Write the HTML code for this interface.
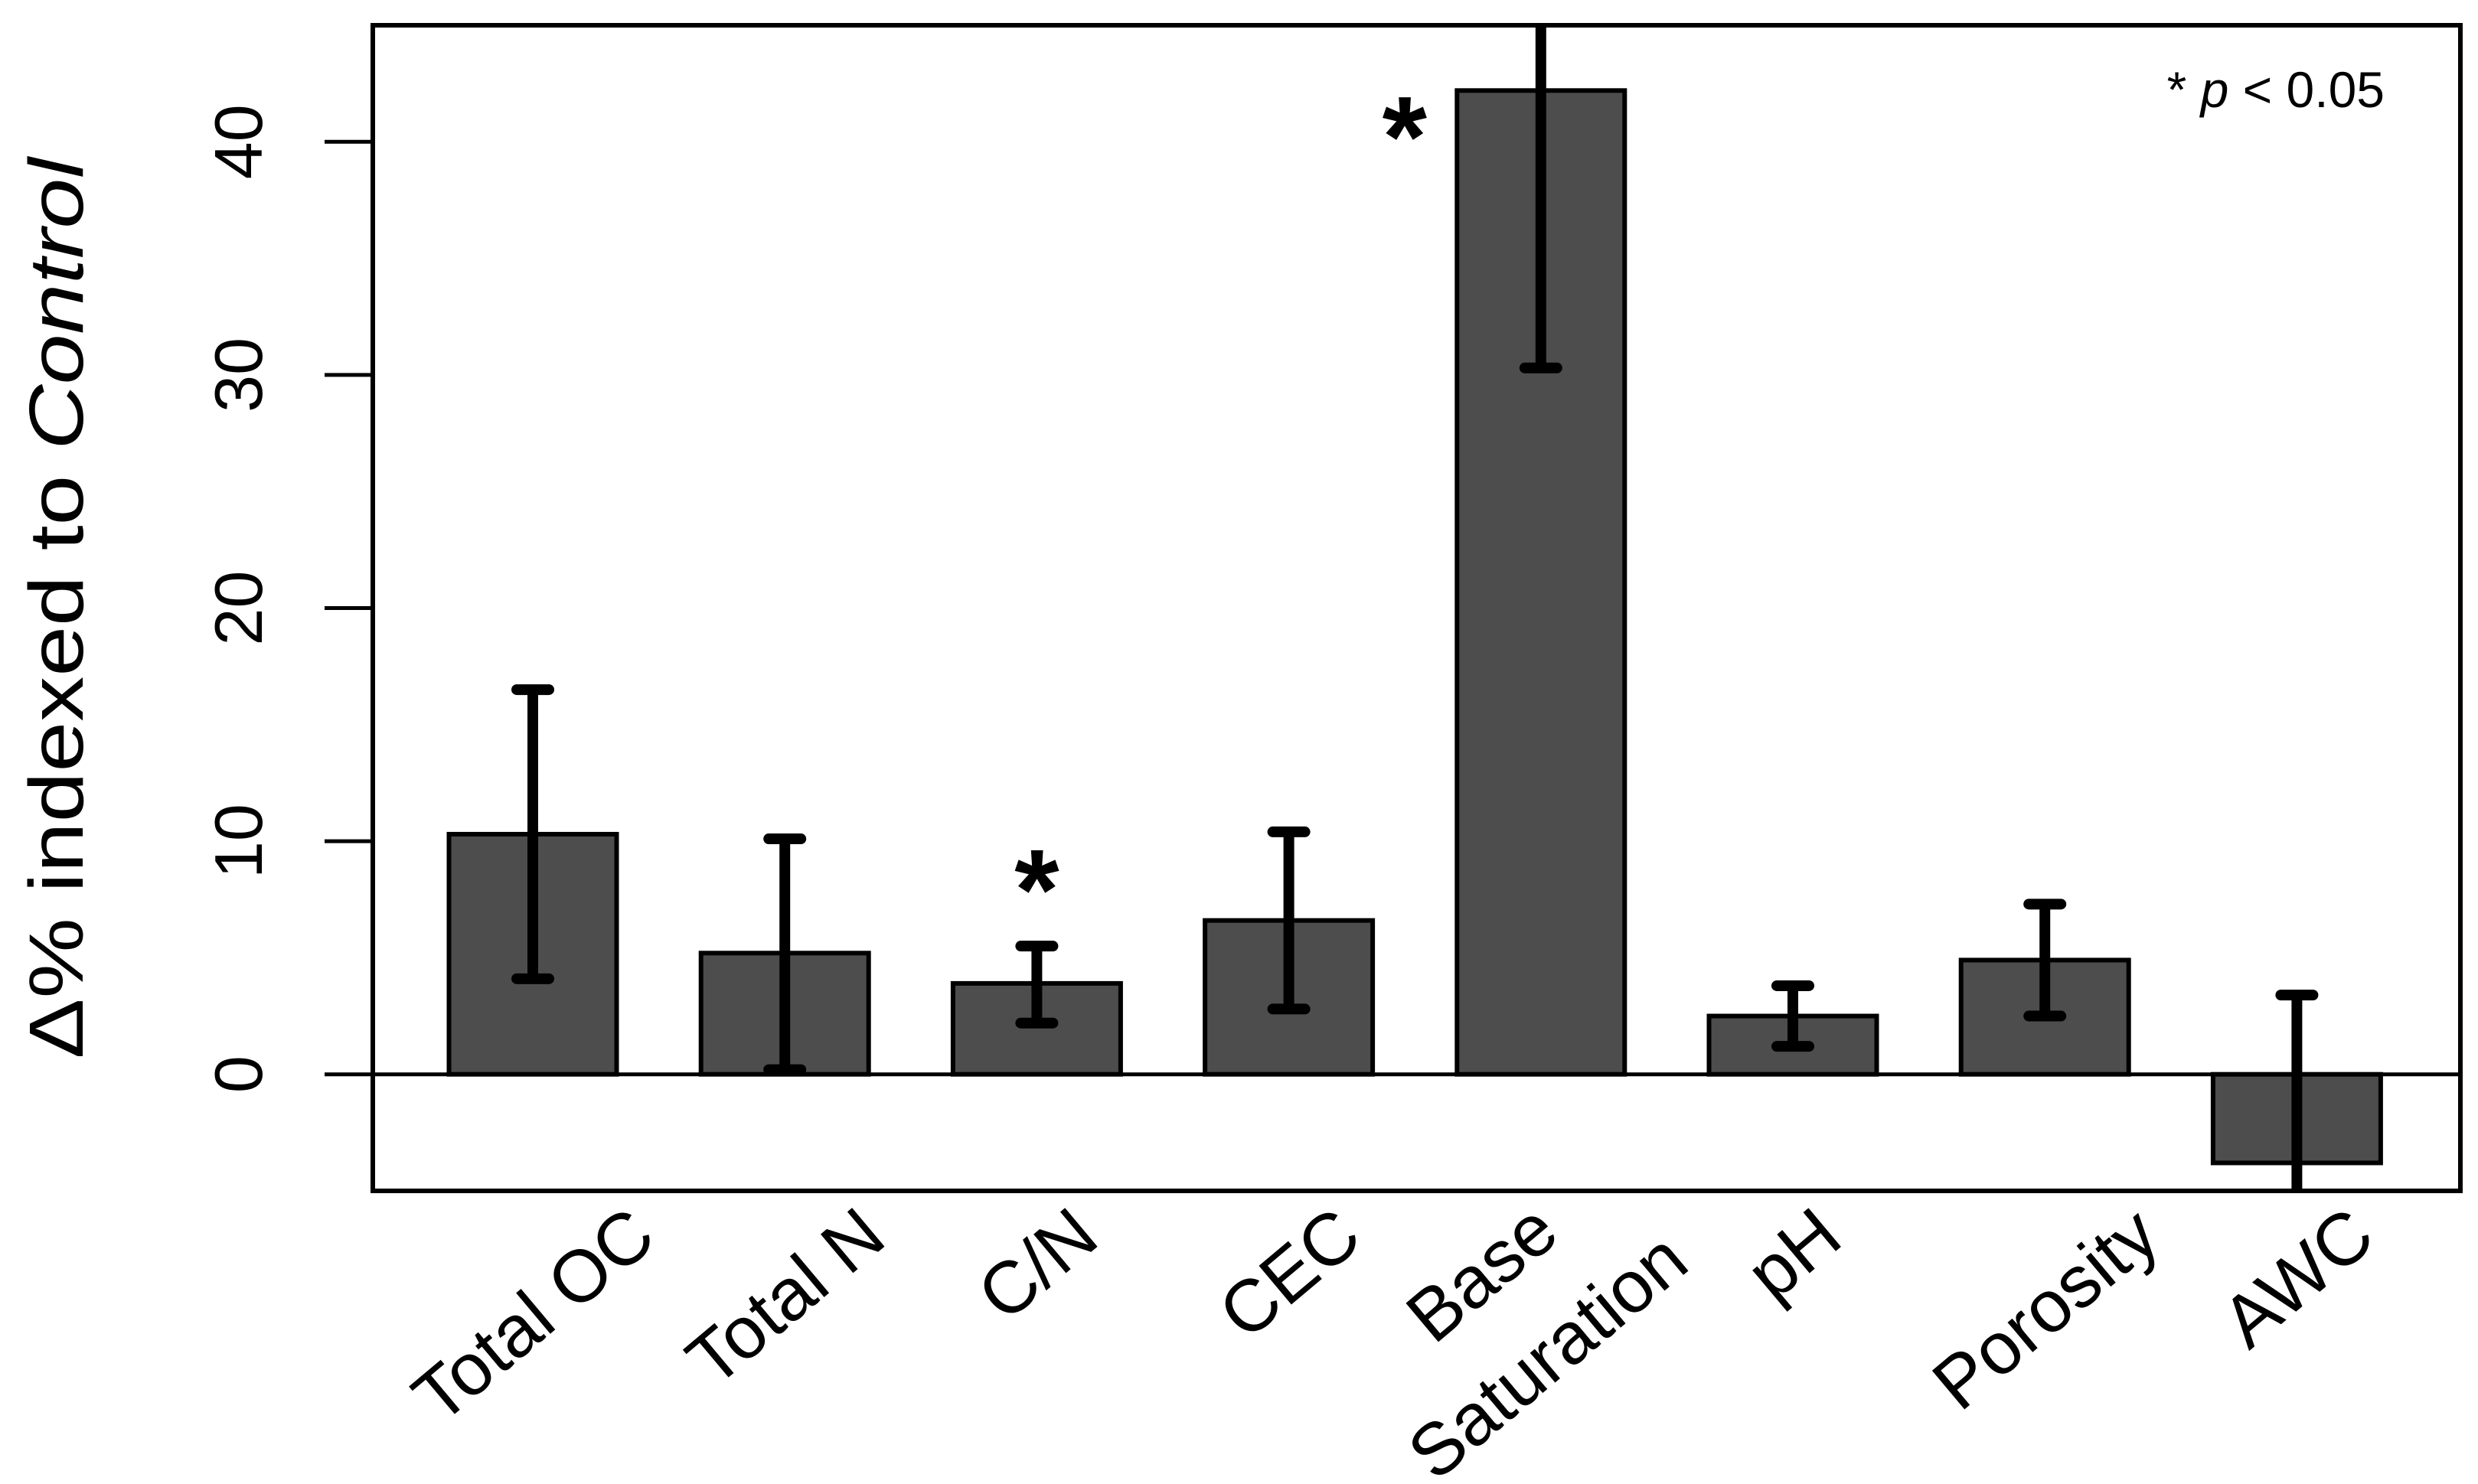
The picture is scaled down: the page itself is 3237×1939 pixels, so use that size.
<!DOCTYPE html>
<html><head><meta charset="utf-8">
<style>html,body{margin:0;padding:0;background:#fff}svg{display:block}</style>
</head><body>
<svg id="chart" xmlns="http://www.w3.org/2000/svg" width="3237" height="1939" viewBox="0 0 3237 1939" font-family="'Liberation Sans', Arial, sans-serif">
<rect width="3237" height="1939" fill="#fff"/>
<g id="marks"></g>
<g id="axis"></g>
<rect x="487" y="33" width="2727" height="1523" fill="none" stroke="#000" stroke-width="6"/>
<text transform="translate(108,795) rotate(-90)" text-anchor="middle" font-size="100" textLength="1177" lengthAdjust="spacingAndGlyphs">Δ%  indexed to <tspan font-style="italic">Control</tspan></text>
<text x="3115" y="140" text-anchor="end" font-size="66">* <tspan font-style="italic">p</tspan> &lt; 0.05</text>
</svg>
<script>
const categories = ["Total OC", "Total N", "C/N", "CEC", "Base Saturation", "pH", "Porosity", "AWC"];
const values = [10.3, 5.2, 3.9, 6.6, 42.2, 2.5, 4.9, -3.8];
const errLow = [4.1, 0.2, 2.2, 2.8, 30.3, 1.2, 2.5, -11];
const errHigh = [16.5, 10.1, 5.5, 10.4, 54, 3.8, 7.3, 3.4];
const significant = [false, false, true, false, true, false, false, false];
const yTicks = [0, 10, 20, 30, 40];

const NS = "http://www.w3.org/2000/svg";
const X0 = 487, X1 = 3214, Y0 = 33, Y1 = 1556;
const yMin = -5, yMax = 45;
function y(v){ return Y1 - (v - yMin) / (yMax - yMin) * (Y1 - Y0); }
const first = 696, step = 329.2, bw = 219;
function x(i){ return first + i * step; }
function el(tag, attrs, parent){ const e = document.createElementNS(NS, tag); for (const k in attrs) e.setAttribute(k, attrs[k]); parent.appendChild(e); return e; }
const svg = document.getElementById('chart');
const marks = document.getElementById('marks');
const axis = document.getElementById('axis');

const defs = el('defs', {}, svg);
const cp = el('clipPath', {id:'plotclip'}, defs);
el('rect', {x:X0, y:Y0, width:X1-X0, height:Y1-Y0}, cp);
marks.setAttribute('clip-path', 'url(#plotclip)');

categories.forEach((c, i) => {
  const v = values[i];
  const r = el('rect', {x: x(i) - bw/2, y: Math.min(y(v), y(0)), width: bw, height: Math.abs(y(v) - y(0)), fill: '#4d4d4d', stroke: '#000', 'stroke-width': 6}, marks);
  
  
});
const zl = el('line', {x1: X0, x2: X1, y1: y(0), y2: y(0), stroke: '#000', 'stroke-width': 5}, marks);



categories.forEach((c, i) => {
  const g = el('g', {stroke: '#000', 'stroke-width': 14, 'stroke-linecap': 'round'}, marks);
  
  
  el('line', {x1: x(i), x2: x(i), y1: y(errLow[i]), y2: y(errHigh[i]), 'stroke-linecap': 'butt'}, g);
  el('line', {x1: x(i) - 21, x2: x(i) + 21, y1: y(errLow[i]), y2: y(errLow[i])}, g);
  el('line', {x1: x(i) - 21, x2: x(i) + 21, y1: y(errHigh[i]), y2: y(errHigh[i])}, g);
});

categories.forEach((c, i) => {
  if (!significant[i]) return;
  let sx, sy;
  if (y(errHigh[i]) < Y0 + 80) { sx = x(i) - 178; sy = y(values[i]) + 112; }
  else { sx = x(i); sy = y(errHigh[i]) - 22; }
  const t = el('text', {x: sx, y: sy, 'text-anchor': 'middle', 'font-size': 150, 'font-weight': 'bold'}, svg);
  t.textContent = '*';
  
  
});

yTicks.forEach(v => {
  const l = el('line', {x1: 424, x2: X0, y1: y(v), y2: y(v), stroke: '#000', 'stroke-width': 5}, axis);
  
  
  const t = el('text', {transform: 'translate(342,' + y(v) + ') rotate(-90)', 'text-anchor': 'middle', 'font-size': 88}, axis);
  t.textContent = v;
  
  
});

function placeLabel(text, cx, cy){
  const t = el('text', {x: 0, y: 34, transform: 'translate(' + cx + ',' + cy + ') rotate(-40)', 'text-anchor': 'middle', 'font-size': 96}, axis);
  t.textContent = text;
  
  
  return t;
}
categories.forEach((c, i) => {
  if (c === 'Base Saturation') {
    placeLabel('Base', x(i) - 78, 1662);
    placeLabel('Saturation', x(i) + 8, 1771);
  } else {
    const t = placeLabel(c, x(i), 1598);
    const w = t.getComputedTextLength();
    t.setAttribute('transform', 'translate(' + x(i) + ',' + (1598 + 0.32 * w) + ') rotate(-40)');
  }
});
</script>
</body></html>
